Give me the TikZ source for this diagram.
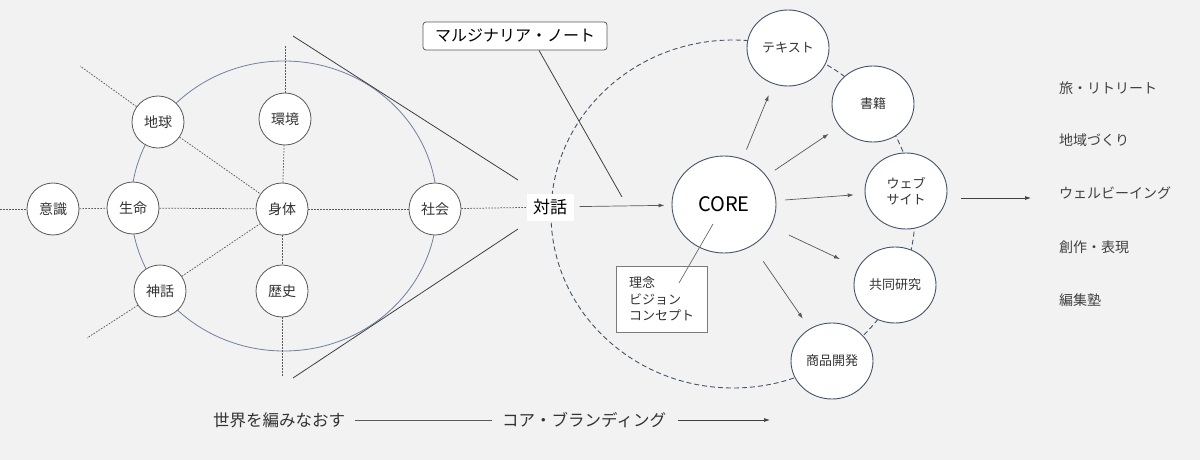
\documentclass[tikz,border=0pt]{standalone}
\usepackage{fontspec}
\setmainfont{Noto Sans CJK JP}
\usetikzlibrary{arrows.meta,shapes.geometric,calc}
\definecolor{bgc}{HTML}{F2F2F2}
\definecolor{lgray}{HTML}{595959}
\definecolor{navy}{HTML}{44546A}
\definecolor{ellc}{HTML}{7080A0}
\definecolor{tang}{HTML}{404040}
\begin{document}
\begin{tikzpicture}[x=1pt,y=-1pt,
  lc/.style={circle,draw=lgray,line width=0.8pt,fill=white,minimum size=52pt,inner sep=0pt,
    font=\fontsize{14pt}{17pt}\selectfont,text=black!80},
  rc/.style={ellipse,draw=navy,line width=0.9pt,fill=white,minimum width=82pt,minimum height=76pt,inner sep=0pt,
    font=\fontsize{13pt}{16pt}\selectfont,text=black!80,align=center},
  dot/.style={draw=lgray,line width=0.75pt,dash pattern=on 1.6pt off 1.4pt},
  tline/.style={draw=tang,line width=0.8pt},
  arr/.style={draw=lgray,line width=0.7pt,-{Latex[length=6pt,width=4pt]}},
  listt/.style={anchor=west,inner sep=0pt,font=\fontsize{14pt}{17pt}\selectfont,text=black!75},
  bott/.style={inner sep=0pt,font=\fontsize{16.5pt}{19pt}\selectfont,text=black!80}]
\fill[bgc] (0,0) rectangle (1200,460);
\useasboundingbox (0,0) rectangle (1200,460);

% large shapes
\draw[ellc,line width=0.8pt] (284,206) ellipse [x radius=153pt, y radius=145pt];
\draw[navy,line width=0.9pt,dash pattern=on 5pt off 3pt] (733,214) ellipse [x radius=182pt, y radius=174pt];

% left nodes
\node[lc] (ishiki) at (53,209) {意識};
\node[lc] (seimei) at (133,208) {生命};
\node[lc] (chikyu) at (158,122) {地球};
\node[lc] (kankyo) at (285,119) {環境};
\node[lc] (shintai) at (282,209) {身体};
\node[lc] (shakai) at (435,209) {社会};
\node[lc] (shinwa) at (160,291) {神話};
\node[lc] (rekishi) at (282,291) {歴史};

\coordinate (lw) at (0,209);
\coordinate (kup) at (285,45);
\coordinate (rdn) at (282,377);
\coordinate (cul) at (80,66);
\coordinate (sdl) at (87,338);

\node[fill=white,minimum width=47pt,minimum height=27pt,inner sep=0pt,
  font=\fontsize{17pt}{20pt}\selectfont] (taiwa) at (550,207) {対話};

\draw[dot] (lw) -- (ishiki);
\draw[dot] (ishiki) -- (seimei);
\draw[dot] (seimei) -- (shintai);
\draw[dot] (shintai) -- (shakai);
\draw[dot] (shakai) -- (taiwa);
\draw[dot] (kankyo) -- (kup);
\draw[dot] (shintai) -- (kankyo);
\draw[dot] (shintai) -- (rekishi);
\draw[dot] (rekishi) -- (rdn);
\draw[dot] (chikyu) -- (cul);
\draw[dot] (chikyu) -- (shintai);
\draw[dot] (shinwa) -- (shintai);
\draw[dot] (shinwa) -- (sdl);

% tangent lines
\coordinate (t1a) at (293,36);
\coordinate (t1b) at (518,180);
\coordinate (t2a) at (293,378);
\coordinate (t2b) at (518,229);
\draw[tline] (t1a) -- (t1b);
\draw[tline] (t2a) -- (t2b);

% note
\node[draw=lgray,line width=0.8pt,rounded corners=3pt,fill=white,minimum width=184pt,minimum height=28pt,
  inner sep=0pt,font=\fontsize{16pt}{19pt}\selectfont] (note) at (515,36) {マルジナリア・ノート};
\coordinate (noteend) at (622,197);
\draw[tline] ($(note.south)+(24,0)$) -- (noteend);

% core
\node[ellipse,draw=navy,line width=0.9pt,fill=white,minimum width=104pt,minimum height=97pt,inner sep=0pt,
  font=\fontsize{20pt}{24pt}\selectfont] (core) at (724,204.5) {CORE};
\draw[arr,shorten <=6pt,shorten >=7pt] (taiwa) -- (core);

% right nodes
\node[rc] (text) at (788,48) {テキスト};
\node[rc] (shoseki) at (873,104) {書籍};
\node[rc] (web) at (906,191) {ウェブ\\サイト};
\node[rc] (kyodo) at (895,285) {共同研究};
\node[rc] (shohin) at (832,361) {商品開発};

\draw[arr,shorten <=10pt,shorten >=12pt] (core) -- (text);
\draw[arr,shorten <=10pt,shorten >=13pt] (core) -- (shoseki);
\draw[arr,shorten <=9pt,shorten >=11pt] (core) -- (web);
\draw[arr,shorten <=20pt,shorten >=20pt] (core) -- (kyodo);
\draw[arr,shorten <=19pt,shorten >=12pt] (core) -- (shohin);

% concept box
\node[draw=lgray!80,line width=0.8pt,fill=white,minimum width=91pt,minimum height=66pt,inner sep=0pt,
  align=left,font=\fontsize{13pt}{16.5pt}\selectfont,text=black!80] (concept) at (661.5,299)
  {理念\\ビジョン\\コンセプト};
\draw[draw=lgray!90,line width=0.7pt] ($(core.center)+(-11,19.5)$) -- ($(concept.center)+(17.5,-16)$);

% output arrow and list
\coordinate (outend) at (1031,198);
\draw[arr,draw=tang] ($(web.east)+(14,7)$) -- (outend);
\node[listt] (l1) at (1059,88) {旅・リトリート};
\node[listt] (l2) at (1059,140) {地域づくり};
\node[listt] (l3) at (1059,193) {ウェルビーイング};
\node[listt] (l4) at (1059,247) {創作・表現};
\node[listt] (l5) at (1059,300) {編集塾};

% bottom
\node[bott,anchor=west] (sekai) at (213,420) {世界を編みなおす};
\node[bott,anchor=west] (core2) at (502,420) {コア・ブランディング};
\coordinate (botend) at (770,420);
\draw[tline,draw=lgray] ($(sekai.east)+(10,0)$) -- ($(core2.west)+(-10,0)$);
\draw[arr,draw=tang] ($(core2.east)+(12,0)$) -- (botend);
\end{tikzpicture}
\end{document}
